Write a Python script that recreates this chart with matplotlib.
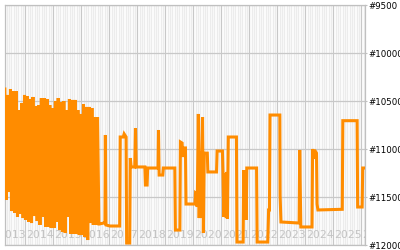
import numpy as np
import matplotlib
matplotlib.use('Agg')
import matplotlib.pyplot as plt
from matplotlib.ticker import MultipleLocator, FixedLocator
import matplotlib.transforms as mtransforms

# Rank values (lower rank number = higher on chart)
# Early period: rank jumps up and down almost every sample
dense_top = [10372, 10434, 10372, 10393, 10393, 10591, 10518, 10434, 10445, 10476,
             10455, 10549, 10539, 10466, 10466, 10476, 10539, 10570, 10497, 10466,
             10507, 10497, 10591, 10476, 10486, 10486, 10591, 10632, 10528, 10559,
             10559, 10570, 10664, 10664]
dense_bottom = [11528, 11445, 11643, 11663, 11705, 11674, 11716, 11736, 11757, 11768,
                11695, 11747, 11788, 11705, 11809, 11809, 11820, 11820, 11757, 11841,
                11861, 11872, 11705, 11882, 11882, 11882, 11893, 11893, 11913, 11945,
                11768, 11788, 11788, 11778]
dense_start, dense_end = 2013.27, 2016.63

# Later period
step_years = [2016.65, 2016.80, 2016.845, 2016.86, 2016.88, 2017.02, 2017.37, 2017.39,
              2017.50, 2017.53, 2017.60, 2017.62, 2017.73, 2017.75, 2017.78, 2017.91,
              2017.935, 2017.96, 2018.27, 2018.29, 2018.35, 2018.37, 2018.74, 2018.757,
              2018.78, 2018.91, 2018.93, 2019.34, 2019.36, 2019.52, 2019.54, 2019.60,
              2019.62, 2019.66, 2019.72, 2019.74, 2020.06, 2020.08, 2020.12, 2020.14,
              2020.18, 2020.21, 2020.24, 2020.27, 2020.30, 2020.33, 2020.36, 2020.39,
              2020.50, 2020.52, 2020.83, 2020.85, 2021.04, 2021.06, 2021.09, 2021.11,
              2021.13, 2021.16, 2021.18, 2021.20, 2021.22, 2021.25, 2021.54, 2021.56,
              2021.78, 2021.80, 2021.83, 2021.86, 2021.89, 2021.91, 2022.26, 2022.28,
              2022.66, 2022.69, 2022.72, 2022.74, 2023.09, 2023.10, 2023.13, 2023.78,
              2023.80, 2023.84, 2024.24, 2024.26, 2024.30, 2024.33, 2024.40, 2024.42,
              2024.45, 2025.32, 2025.34, 2025.85, 2025.87, 2026.03, 2026.05, 2026.20]
step_ranks = [11778, 11768, 11768, 10851, 11788, 11799, 11799, 10872, 10872, 10840,
              10872, 11976, 11976, 11091, 11184, 11184, 10781, 11184, 11184, 11372,
              11372, 11195, 11195, 10799, 11268, 11268, 11195, 11195, 11841, 11841,
              10924, 10935, 11080, 10986, 10986, 11570, 11570, 11455, 11465, 11601,
              10632, 11716, 11018, 11716, 11060, 10664, 11872, 11040, 11040, 11236,
              11236, 11018, 11018, 11236, 11705, 11300, 11705, 11250, 11716, 11236,
              11726, 10872, 10872, 11966, 11966, 11216, 11736, 11216, 11736, 11195,
              11195, 11966, 11966, 11632, 11632, 10643, 10643, 11480, 11757, 11768,
              11007, 11809, 11809, 10997, 11100, 11007, 11040, 11570, 11632, 11625,
              10702, 10702, 11601, 11601, 11195, 11195]

year_labels = list(range(2013, 2027))
rank_ticks = [9500, 10000, 10500, 11000, 11500, 12000]

# combine into one series
dense_vals = []
for t, b in zip(dense_top, dense_bottom):
    dense_vals += [t, b]
dense_x = np.linspace(dense_start, dense_end, len(dense_vals))
x = np.concatenate([dense_x, step_years])
y = np.concatenate([dense_vals, step_ranks])

fig = plt.figure(figsize=(4, 2.5), dpi=100)
ax = fig.add_axes([0.01325, 0.0188, 0.89925, 0.96])

ax.set_xlim(2013.286, 2026.132)
ax.set_ylim(12000, 9500)

# grid
ax.xaxis.set_major_locator(FixedLocator(year_labels))
ax.xaxis.set_minor_locator(MultipleLocator(1 / 12))
ax.yaxis.set_major_locator(FixedLocator(rank_ticks))
ax.grid(which='minor', axis='x', color='#ececec', linewidth=1.0)
ax.grid(which='major', axis='both', color='#c8c8c8', linewidth=0.9)
ax.set_axisbelow(True)

for s in ax.spines.values():
    s.set_color('#c0c0c0')
    s.set_linewidth(0.9)

ax.tick_params(axis='x', which='both', length=0, labelbottom=False)
ax.yaxis.tick_right()
ax.tick_params(axis='y', length=1.5, pad=0.8, color='#c0c0c0', labelsize=6.2,
               labelcolor='black')
ax.set_yticklabels(['#' + str(v) for v in rank_ticks])

# year labels inside the plot, left aligned on each year line
trans = mtransforms.blended_transform_factory(ax.transData, ax.transAxes)
for yr in year_labels:
    ax.text(yr + 0.02, 0.045, str(yr), transform=trans, ha='left', va='center',
            fontsize=7.8, color='#c4c4c4', clip_on=True, zorder=1)

ax.plot(x, y, color='#ff8c00', linewidth=2.2, solid_joinstyle='miter', zorder=3)

fig.savefig('out.png', dpi=100)
